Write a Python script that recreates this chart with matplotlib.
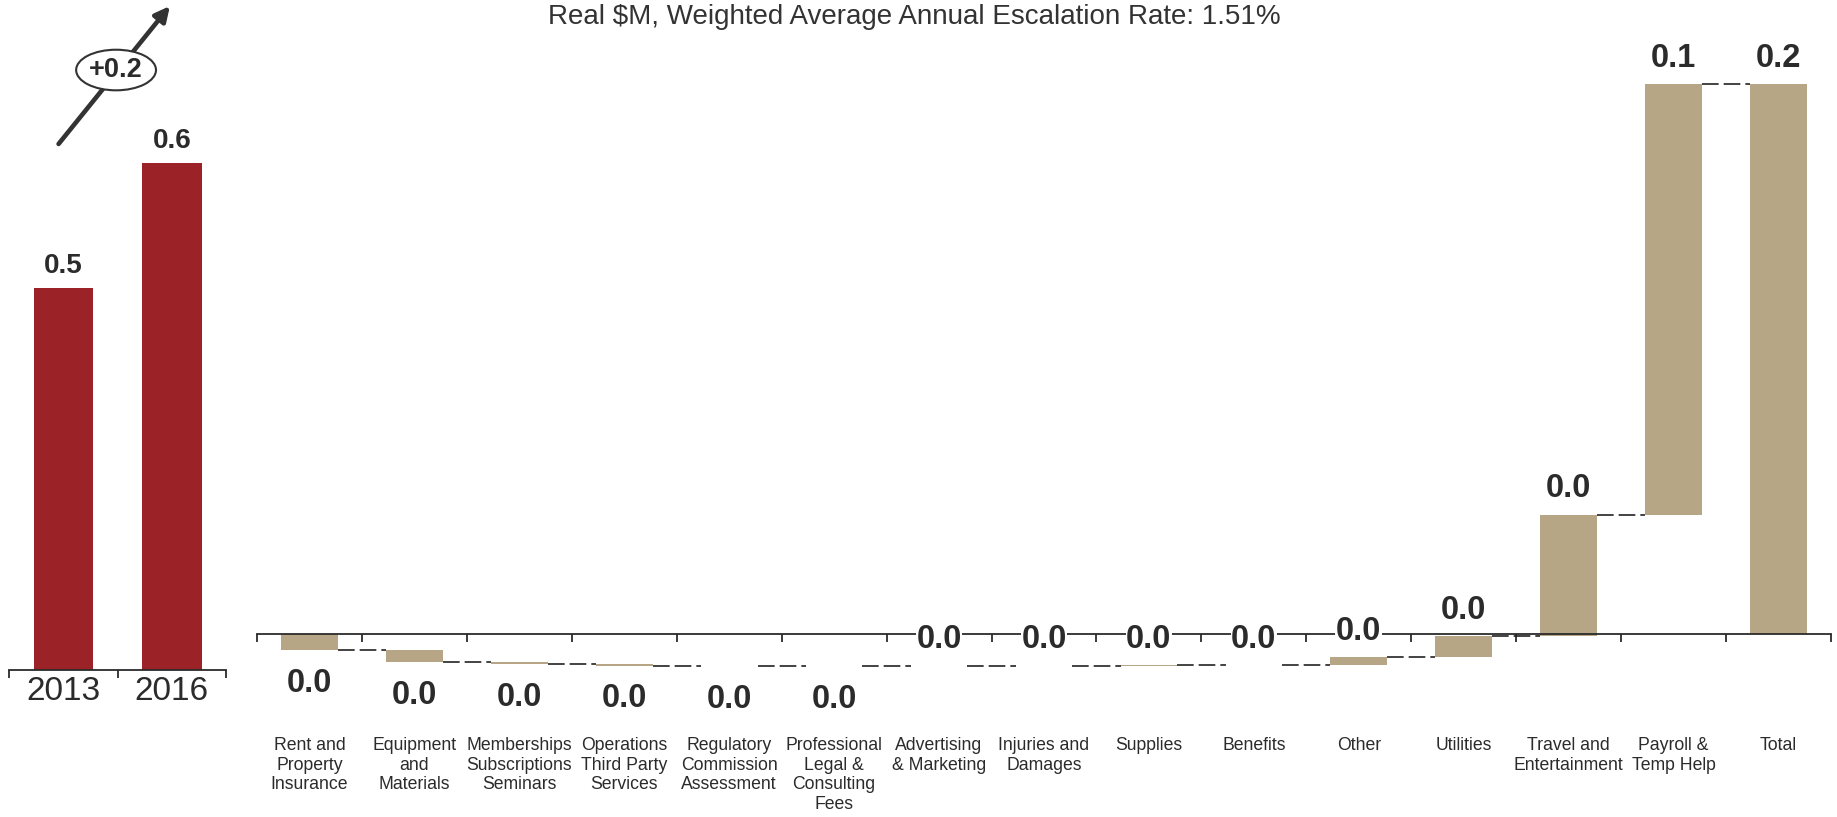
import numpy as np
import matplotlib
matplotlib.use('Agg')
import matplotlib.pyplot as plt
from matplotlib.ticker import FixedLocator

plt.rcParams['font.family'] = ['Liberation Sans', 'DejaVu Sans']

# data ($M, real)
years = ['2013', '2016']
year_values = [0.46, 0.61]
change_label = '+0.2'

categories = ['Rent and\nProperty\nInsurance', 'Equipment\nand\nMaterials',
              'Memberships\nSubscriptions\nSeminars', 'Operations\nThird Party\nServices',
              'Regulatory\nCommission\nAssessment', 'Professional\nLegal &\nConsulting\nFees',
              'Advertising\n& Marketing', 'Injuries and\nDamages', 'Supplies', 'Benefits',
              'Other', 'Utilities', 'Travel and\nEntertainment', 'Payroll &\nTemp Help', 'Total']
deltas = [-0.0045, -0.0035, -0.0004, -0.0005, -0.00005, -0.00005,
          0.00005, 0.00005, 0.00005, 0.00005, 0.0022, 0.0061, 0.0342, 0.1215]

title = 'Real $M, Weighted Average Annual Escalation Rate: 1.51%'

# colours
red = '#9B2328'
tan = '#B6A685'
dark = '#2b2b2b'

fig = plt.figure(figsize=(18.37, 8.17), dpi=100)
W, H = 1837, 817

# --------------------------------------------------
# left panel: 2013 vs 2016
axl = fig.add_axes([9.4 / W, (H - 670) / H, 216.6 / W, 670 / H])
xl = np.arange(len(years))
axl.bar(xl, year_values, width=0.55, color=red)
axl.set_xlim(-0.5, 1.5)
axl.set_ylim(0, 670 / 831)
for x, v in zip(xl, year_values):
    axl.annotate(f'{v:.1f}', (x, v), xytext=(0, 16), textcoords='offset points',
                 ha='center', va='center', fontsize=20, fontweight='bold', color=dark)

for s in ['top', 'left', 'right']:
    axl.spines[s].set_visible(False)
axl.spines['bottom'].set_color(dark)
axl.spines['bottom'].set_linewidth(1.3)
axl.set_yticks([])
axl.set_xticks(xl)
axl.set_xticklabels(years, fontsize=24, color=dark)
axl.xaxis.set_minor_locator(FixedLocator([-0.5, 0.5, 1.5]))
axl.tick_params(axis='x', which='major', length=0, pad=4)
axl.tick_params(axis='x', which='minor', length=6, width=1.3, color=dark, direction='out')

# growth arrow with ellipse
axl.annotate('', xy=(0.982, 0.799), xytext=(-0.046, 0.633),
             arrowprops=dict(arrowstyle='-|>', lw=3.3, color='#333333', mutation_scale=22,
                             shrinkA=0, shrinkB=0), annotation_clip=False)
axl.text(0.485, 0.722, change_label, ha='center', va='center', fontsize=19.5,
         fontweight='bold', color=dark,
         bbox=dict(boxstyle='ellipse,pad=0.05', fc='white', ec='#333333', lw=1.5))

# --------------------------------------------------
# waterfall
ax = fig.add_axes([257 / W, 0, 1574 / W, 1])
cum = np.cumsum(deltas)
total = cum[-1]
px_per_unit = 549.6 / total
ax.set_ylim(-(H - 634) / px_per_unit, 634 / px_per_unit)
ax.set_xlim(-0.5, len(categories) - 0.5)

starts = np.concatenate([[0], cum[:-1]])
bottoms = list(starts) + [0]
heights = list(deltas) + [total]
bw = 0.54
x = np.arange(len(categories))
ax.bar(x, heights, bottom=bottoms, width=bw, color=tan, linewidth=0)

# dashed connectors
levels = list(cum)
for i in range(len(categories) - 1):
    ax.plot([x[i] + bw / 2, x[i + 1] - bw / 2], [levels[i], levels[i]],
            color='#222222', lw=1.2, linestyle=(0, (10, 3)))

# value labels
for i, h in enumerate(heights):
    b = bottoms[i]
    if h >= 0:
        y, off = b + h, 18.5
    else:
        y, off = b + h, -24
    ax.annotate(f'{abs(h):.1f}', (x[i], y), xytext=(0, off), textcoords='offset points',
                ha='center', va='center', fontsize=23.5, fontweight='bold', color=dark,
                bbox=dict(fc='white', ec='none', pad=0.5), zorder=4)

for s in ['top', 'left', 'right']:
    ax.spines[s].set_visible(False)
ax.spines['bottom'].set_position(('data', 0))
ax.spines['bottom'].set_color(dark)
ax.spines['bottom'].set_linewidth(1.3)
ax.set_yticks([])
ax.set_xticks(x)
ax.set_xticklabels(categories, fontsize=12.7, color=dark, linespacing=1.22, va='top')
ax.xaxis.set_minor_locator(FixedLocator(np.arange(-0.5, len(categories), 1.0)))
ax.tick_params(axis='x', which='major', length=0, pad=74)
ax.tick_params(axis='x', which='minor', length=6, width=1.3, color=dark, direction='out')

# title (kept fully inside the figure)
fig.text(548 / W, 1 - 24 / H, title, ha='left', va='baseline', fontsize=20, color='#333333')

fig.savefig('out.png', dpi=100)
